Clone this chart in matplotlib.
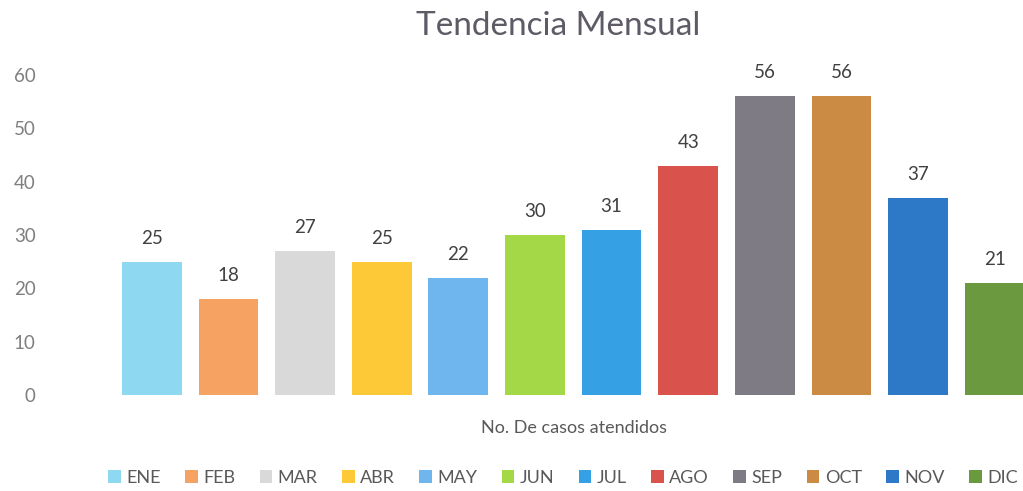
import matplotlib.pyplot as plt
from matplotlib.patches import Patch

# datos del grafico
meses = ["ENE", "FEB", "MAR", "ABR", "MAY", "JUN", "JUL", "AGO", "SEP", "OCT", "NOV", "DIC"]
casos = [25, 18, 27, 25, 22, 30, 31, 43, 56, 56, 37, 21]
colores = ["#8ED8F2", "#F5A262", "#D9D9D9", "#FDC936", "#6FB5EE", "#A5D846",
           "#35A0E3", "#D9534C", "#7E7B85", "#CB8B45", "#2E78C8", "#6A9940"]

plt.rcParams['font.family'] = ['Lato', 'DejaVu Sans']

fig = plt.figure(figsize=(10.23, 4.91), dpi=100)
ax = fig.add_axes([0.111, 0.1955, 0.889, 0.6515])

pos = list(range(len(meses)))
barras = ax.bar(pos, casos, width=0.78, color=colores)

for x, v in zip(pos, casos):
    ax.annotate(str(v), (x, v), xytext=(0, 17), textcoords='offset points',
                ha='center', va='center', fontsize=13.5, color='#404040')

ax.set_ylim(0, 60)
ax.set_xlim(-0.5, 11.37)
ax.set_yticks(range(0, 61, 10))
ax.set_xticks([])
ax.tick_params(axis='y', length=0, pad=56, labelsize=13.5, labelcolor='#7F7F7F')
for s in ax.spines.values():
    s.set_visible(False)

fig.text(558 / 1023, 1 - 26 / 491, "Tendencia Mensual", ha='center', va='center',
         fontsize=24, color='#5E5A66')
fig.text(574 / 1023, 1 - 428 / 491, "No. De casos atendidos", ha='center', va='center',
         fontsize=13, color='#595959')

handles = [Patch(facecolor=c, label=m) for m, c in zip(meses, colores)]
fig.legend(handles=handles, loc='center', bbox_to_anchor=(563 / 1023, 1 - 478 / 491),
           ncol=12, frameon=False, fontsize=13, handlelength=0.7, handleheight=0.7,
           handletextpad=0.3, columnspacing=1.35, labelcolor='#595959')

fig.savefig("out.png", dpi=100)
